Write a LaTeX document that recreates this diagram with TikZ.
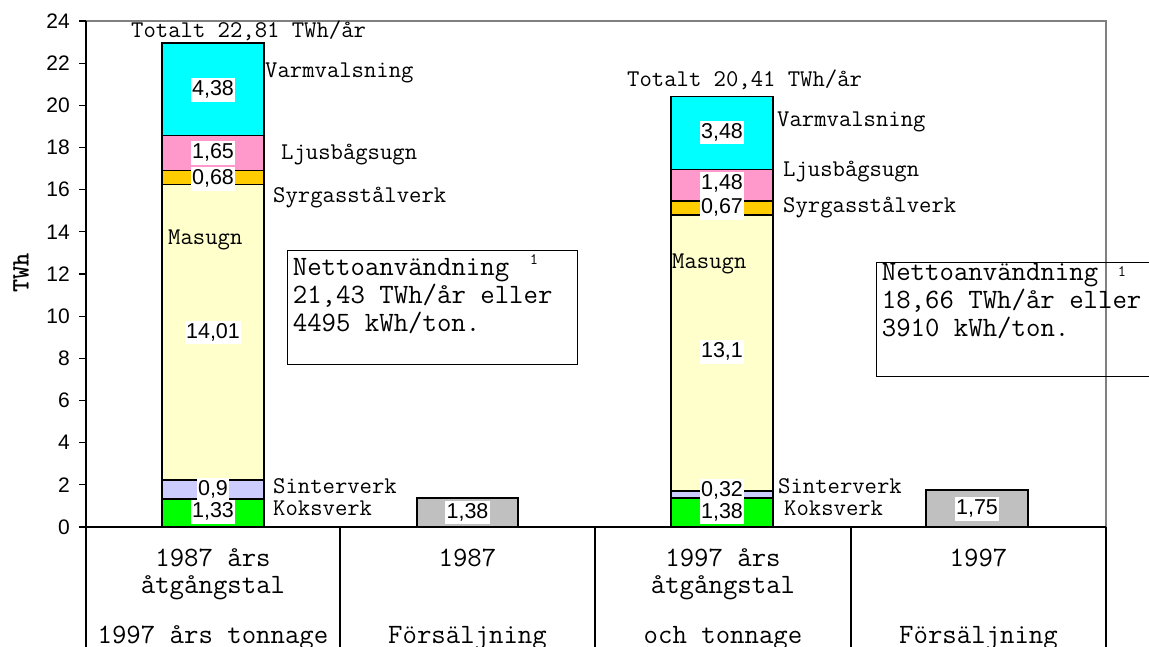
\documentclass[tikz,border=0pt]{standalone}
\usepackage{fontspec}
\newfontfamily\arialf{Liberation Sans}
\definecolor{cyanc}{HTML}{00FFFF}
\definecolor{pinkc}{HTML}{FF99CC}
\definecolor{orangec}{HTML}{FFCC00}
\definecolor{yellowc}{HTML}{FFFFCC}
\definecolor{lavc}{HTML}{CCCCFF}
\definecolor{greenc}{HTML}{00FF00}
\definecolor{grayc}{HTML}{C0C0C0}
\definecolor{framec}{HTML}{808080}
\begin{document}
\begin{tikzpicture}[x=1pt,y=-1pt,
  seg/.style={draw=black,line width=1.5pt},
  val/.style={fill=white,font=\arialf\fontsize{21.5}{25}\selectfont,inner xsep=1.5pt,inner ysep=2pt,text height=15.5pt,text depth=4pt},
  lab/.style={font=\ttfamily\fontsize{24}{28}\selectfont,anchor=base west,inner sep=0pt},
  big/.style={font=\ttfamily\fontsize{28}{27.5}\selectfont,inner sep=0pt},
  tickl/.style={font=\arialf\fontsize{21}{24}\selectfont,anchor=east,inner sep=0pt},
  sup/.style={font=\ttfamily\fontsize{16}{18}\selectfont,inner sep=0pt},
  axis/.style={draw=black,line width=1.2pt},
  frameline/.style={draw=framec,line width=1.5pt},
  textbox/.style={draw=black,line width=1pt,inner sep=0pt,anchor=north west}
]
\useasboundingbox (0,0) rectangle (1149,647);
\clip (0,0) rectangle (1149,647);
\fill[white] (0,0) rectangle (1149,647);

% frame
\draw[frameline] (86,21) -- (1106,21) -- (1106,527);

% bars
\foreach \a/\b/\c in {0/1.33/greenc,1.33/2.23/lavc,2.23/16.24/yellowc,16.24/16.92/orangec,16.92/18.57/pinkc,18.57/22.95/cyanc}
  \draw[seg,fill=\c] (162,{527-21.08*\a}) rectangle (264,{527-21.08*\b});
\foreach \a/\b/\c in {0/1.38/greenc,1.38/1.70/lavc,1.70/14.80/yellowc,14.80/15.47/orangec,15.47/16.95/pinkc,16.95/20.43/cyanc}
  \draw[seg,fill=\c] (671,{527-21.08*\a}) rectangle (773,{527-21.08*\b});
\draw[seg,fill=grayc] (417,527) rectangle (518,{527-21.08*1.38});
\draw[seg,fill=grayc] (926,527) rectangle (1028,{527-21.08*1.75});

% axes
\draw[axis] (86,21) -- (86,647);
\draw[axis] (79,527) -- (1106,527);
\foreach \v in {0,2,...,24} {
  \draw[axis] (79,{527-21.08*\v}) -- (86,{527-21.08*\v});
  \node[tickl] (t\v) at (70,{527-21.08*\v}) {\v};
}
\foreach \xx in {340,595,851,1106}
  \draw[axis] (\xx,527) -- (\xx,647);

\node[font=\ttfamily\bfseries\fontsize{25}{27}\selectfont,rotate=90,inner sep=0pt] (ylab) at (21,273) {TWh};

% value labels bar 1
\node[val] (v1a) at (213,90) {4,38};
\node[val] (v1b) at (213,153) {1,65};
\node[val] (v1c) at (213,179) {0,68};
\node[val] (v1d) at (213,332.5) {14,01};
\node[val] (v1e) at (213,489.5) {0,9};
\node[val] (v1f) at (213,512) {1,33};
% bar 3
\node[val] (v3a) at (722,132.7) {3,48};
\node[val] (v3b) at (722,184) {1,48};
\node[val] (v3c) at (722,208) {0,67};
\node[val] (v3d) at (722,352) {13,1};
\node[val] (v3e) at (722,491) {0,32};
\node[val] (v3f) at (722,512.7) {1,38};
% gray bars
\node[val] (v2) at (467.5,512.5) {1,38};
\node[val] (v4) at (977,509) {1,75};

% series labels bar 1
\node[lab] (tot1) at (131,38) {Totalt 22,81 TWh/år};
\node[lab] (vv1) at (265,78) {Varmvalsning};
\node[lab] (lj1) at (281,160) {Ljusbågsugn};
\node[lab] (sy1) at (273,203) {Syrgasstålverk};
\node[lab] (ma1) at (168,245) {Masugn};
\node[lab] (si1) at (273,493) {Sinterverk};
\node[lab] (ko1) at (273,515.5) {Koksverk};
% series labels bar 3
\node[lab] (tot3) at (627,86.7) {Totalt 20,41 TWh/år};
\node[lab] (vv3) at (777,127) {Varmvalsning};
\node[lab] (lj3) at (783,177) {Ljusbågsugn};
\node[lab] (sy3) at (783,213) {Syrgasstålverk};
\node[lab] (ma3) at (672,269) {Masugn};
\node[lab] (si3) at (778,493) {Sinterverk};
\node[lab] (ko3) at (784,515.5) {Koksverk};

% text boxes
\node[textbox,minimum width=289.4pt,minimum height=114pt] (box1) at (287.3,250) {};
\node[big,anchor=base west,font=\ttfamily\fontsize{28}{27.75}\selectfont] (box1t) at (292.7,276) {\begin{tabular}[t]{@{}l@{}}Nettoanvändning\\21,43 TWh/år eller\\4495 kWh/ton.\end{tabular}};
\node[sup] (box1s) at (534,260) {1};
\node[textbox,minimum width=290pt,minimum height=114pt] (box2) at (875.7,262.3) {};
\node[big,anchor=base west,font=\ttfamily\fontsize{28}{28.2}\selectfont] (box2t) at (881.7,280) {\begin{tabular}[t]{@{}l@{}}Nettoanvändning\\18,66 TWh/år eller\\3910 kWh/ton.\end{tabular}};
\node[sup] (box2s) at (1122,272) {1};

% category labels
\node[big,anchor=base] (c1) at (213,566) {\begin{tabular}[t]{@{}c@{}}1987 års\\åtgångstal\end{tabular}};
\node[big,anchor=base] (c1b) at (213,643) {1997 års tonnage};
\node[big,anchor=base] (c2) at (467.5,566) {1987};
\node[big,anchor=base] (c2b) at (467.5,643) {Försäljning};
\node[big,anchor=base] (c3) at (723,566) {\begin{tabular}[t]{@{}c@{}}1997 års\\åtgångstal\end{tabular}};
\node[big,anchor=base] (c3b) at (723,643) {och tonnage};
\node[big,anchor=base] (c4) at (978.5,566) {1997};
\node[big,anchor=base] (c4b) at (978.5,643) {Försäljning};
\end{tikzpicture}
\end{document}
